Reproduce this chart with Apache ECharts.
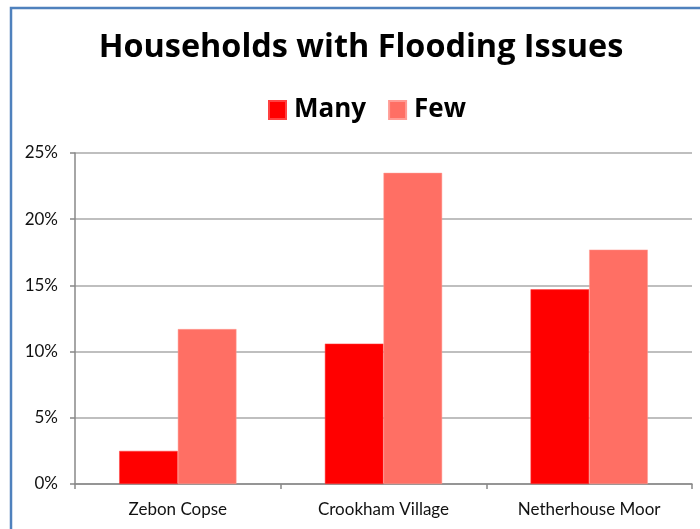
<!DOCTYPE html>
<html><head><meta charset="utf-8">
<script src="https://cdn.jsdelivr.net/npm/echarts@6/dist/echarts.min.js"></script>
<style>html,body{margin:0;padding:0;background:#fff}#c{width:700px;height:529px}</style>
</head><body><div id="c"></div>
<script>
const categories = ['Zebon Copse', 'Crookham Village', 'Netherhouse Moor'];
const seriesNames = ['Many', 'Few'];
const manyValues = [2.5, 10.6, 14.7];
const fewValues = [11.7, 23.5, 17.7];
const yTicks = [0, 5, 10, 15, 20, 25];

const chart = echarts.init(document.getElementById('c'), null, {renderer: 'canvas'});
const font = 'Lato, "Open Sans", sans-serif';
const boldFont = '"Open Sans", Lato, sans-serif';
chart.setOption({
  animation: false,
  backgroundColor: '#fff',
  graphic: [{
    type: 'rect', silent: true,
    shape: {x: 11, y: 8, width: 720, height: 540},
    style: {fill: 'none', stroke: '#4F81BD', lineWidth: 2.5}
  }],
  title: {
    text: 'Households with Flooding Issues',
    left: 356, top: 27, textAlign: 'center',
    textStyle: {fontFamily: boldFont, fontWeight: 'bold', fontSize: 32.4, color: '#000'}
  },
  legend: {
    data: seriesNames,
    left: 263, top: 92,
    itemWidth: 17, itemHeight: 18, itemGap: 22,
    icon: 'rect',
    textStyle: {fontFamily: boldFont, fontWeight: 'bold', fontSize: 26, color: '#000', padding: [0, 0, 0, 3]}
  },
  grid: {left: 75, right: 8, top: 153, bottom: 45, containLabel: false},
  xAxis: {
    type: 'category', data: categories,
    axisLine: {lineStyle: {color: '#888', width: 1.5}},
    axisTick: {show: true, length: 5, lineStyle: {color: '#888', width: 1.5}},
    axisLabel: {fontFamily: font, fontSize: 17, color: '#111', margin: 17}
  },
  yAxis: {
    type: 'value', min: yTicks[0], max: yTicks[yTicks.length - 1], interval: 5,
    axisLine: {show: true, lineStyle: {color: '#888', width: 1.5}},
    axisTick: {show: true, length: 5, lineStyle: {color: '#888', width: 1.5}},
    splitLine: {lineStyle: {color: '#aaa', width: 1.5}},
    axisLabel: {fontFamily: font, fontSize: 17, color: '#111', margin: 17, formatter: v => v + '%'}
  },
  series: [
    {name: seriesNames[0], type: 'bar', data: manyValues, barGap: '0%', barCategoryGap: '43%',
     itemStyle: {color: '#FF0000', borderColor: '#FF4040', borderWidth: 0.5}},
    {name: seriesNames[1], type: 'bar', data: fewValues, barGap: '0%', barCategoryGap: '43%',
     itemStyle: {color: '#FF6F64', borderColor: '#FF9C95', borderWidth: 0.5}}
  ]
});
</script></body></html>
